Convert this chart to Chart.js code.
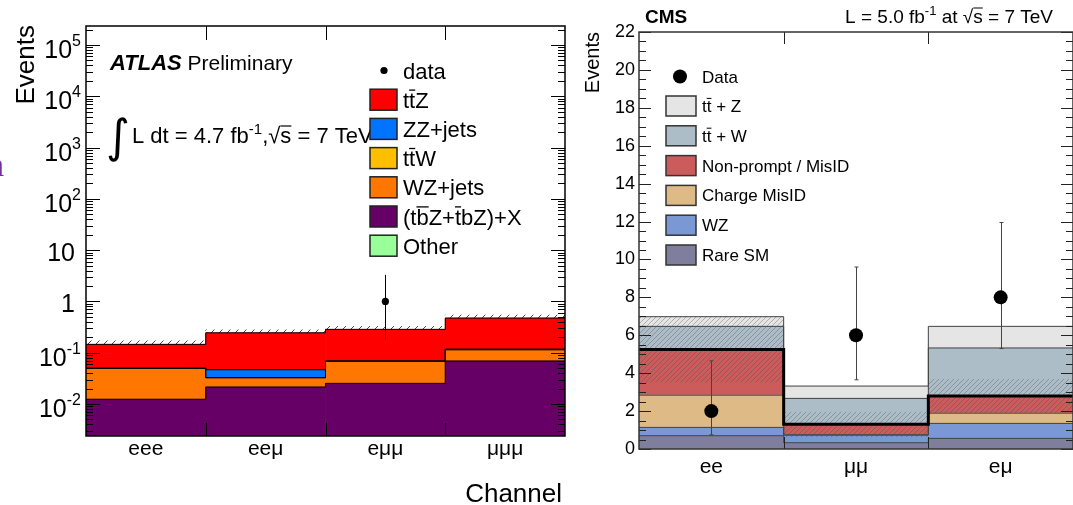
<!DOCTYPE html>
<html><head><meta charset="utf-8">
<script src="https://cdn.jsdelivr.net/npm/chart.js@4.4.1/dist/chart.umd.min.js"></script>
<style>
html,body{margin:0;padding:0;overflow:hidden;background:#fff;width:1073px;height:505px;position:relative;}
#c1{position:absolute;left:0;top:0;}
#c2{position:absolute;left:578px;top:0;}
#nfrag{position:absolute;left:-13px;top:146px;font:34px "Liberation Serif",serif;color:#7030a0;}
</style></head><body>
<div id="nfrag">n</div>
<canvas id="c1" width="578" height="505"></canvas>
<canvas id="c2" width="502" height="505"></canvas>
<script>
// ---------------- ATLAS (left) data ----------------
const atlasChannels = ['eee', 'eeμ', 'eμμ', 'μμμ'];
const atlasTbZX   = [0.0124, 0.0214, 0.0253, 0.0689];
const atlasWZjets = [0.0373, 0.0112, 0.0436, 0.0450];
const atlasTtW    = [0, 0, 0, 0.0030];
const atlasZZjets = [0, 0.0140, 0, 0];
const atlasOther  = [0, 0, 0, 0];
const atlasTtZ    = [0.0960, 0.1980, 0.2170, 0.3570];
const atlasUnc    = [0.025, 0.035, 0.040, 0.070];
const atlasData   = [null, null, 1, null];
const atlasDataLo = [null, null, 0.177, null];
const atlasDataHi = [null, null, 3.3, null];
const atlasYMin = 0.00238, atlasYMax = 2.35e5;
const atlasYTickValues = [0.01, 0.1, 1, 10, 100, 1000, 10000, 100000];
const atlasYTickBase   = ['10', '10', '1', '10', '10', '10', '10', '10'];
const atlasYTickExp    = ['-2', '-1', '', '', '2', '3', '4', '5'];
const atlasLegendLabels = ['t~tZ', 'ZZ+jets', 't~tW', 'WZ+jets', '(t~bZ+~tbZ)+X', 'Other'];

// ---------------- CMS (right) data ----------------
const cmsChannels    = ['ee', 'μμ', 'eμ'];
const cmsRareSM      = [0.70, 0.33, 0.56];
const cmsWZ          = [0.44, 0.41, 0.79];
const cmsChargeMisID = [1.70, 0.00, 0.54];
const cmsNonPrompt   = [2.41, 0.56, 0.91];
const cmsTtW         = [1.22, 1.37, 2.53];
const cmsTtZ         = [0.51, 0.65, 1.14];
const cmsBkgUnc      = [1.73, 0.65, 0.88];
const cmsData        = [2, 6, 8];
const cmsDataLo      = [0.75, 3.65, 5.30];
const cmsDataHi      = [4.65, 9.60, 11.95];
const cmsYMin = 0, cmsYMax = 22, cmsYStep = 2;
const cmsLegendLabels = ['t~t + Z', 't~t + W', 'Non-prompt / MisID', 'Charge MisID', 'WZ', 'Rare SM'];

const F = '"Liberation Sans", Arial, Helvetica, sans-serif';

const pctx = document.createElement('canvas').getContext('2d');
function mkPattern(step, color, lw) {
  const c = document.createElement('canvas'); c.width = step; c.height = step;
  const g = c.getContext('2d');
  g.strokeStyle = color; g.lineWidth = lw;
  g.beginPath();
  g.moveTo(0, step); g.lineTo(step, 0);
  g.moveTo(-1, 1); g.lineTo(1, -1);
  g.moveTo(step - 1, step + 1); g.lineTo(step + 1, step - 1);
  g.stroke();
  return pctx.createPattern(c, 'repeat');
}

function stackLayers(comps, floor) {
  const n = comps[0].length; const cum = new Array(n).fill(0);
  return comps.map(c => {
    const ranges = c.map((v, i) => {
      if (!v) return null;
      const lo = cum[i]; cum[i] += v;
      return [lo > 0 ? lo : floor, cum[i]];
    });
    return { ranges, tops: cum.slice(), empty: c.every(v => !v) };
  });
}
function stepPoints(tops) {
  const pts = tops.map((v, i) => ({ x: i, y: v }));
  pts.push({ x: tops.length, y: tops[tops.length - 1] });
  return pts;
}

// text helpers
function drawRuns(ctx, runs, x, y, align) {
  let total = 0;
  runs.forEach(r => { ctx.font = r.font; r.w = ctx.measureText(r.t).width; total += r.w; });
  let cx = align === 'right' ? x - total : x;
  ctx.textAlign = 'left'; ctx.textBaseline = 'alphabetic';
  runs.forEach(r => {
    ctx.font = r.font;
    ctx.fillText(r.t, cx, y + (r.dy || 0));
    if (r.over) {
      ctx.save(); ctx.lineWidth = r.olw || 1.2; ctx.strokeStyle = ctx.fillStyle;
      ctx.beginPath(); ctx.moveTo(cx, y - r.over); ctx.lineTo(cx + r.w, y - r.over); ctx.stroke();
      ctx.restore();
    }
    cx += r.w;
  });
}
function markedRuns(s, font, size) {
  const runs = []; let i = 0;
  while (i < s.length) {
    if (s[i] === '~') { runs.push({ t: s[i + 1], font, over: size * 0.80, olw: Math.max(1, size / 17) }); i += 2; }
    else { let j = i; while (j < s.length && s[j] !== '~') j++; runs.push({ t: s.slice(i, j), font }); i = j; }
  }
  return runs;
}

// error bar plugin (draws before the data points)
const errorBars = {
  id: 'errorBars',
  beforeDatasetDraw(chart, args) {
    const ds = chart.data.datasets[args.index];
    if (!ds.errLo) return;
    const ctx = chart.ctx, y = chart.scales.y;
    ctx.save(); ctx.strokeStyle = ds.errColor; ctx.lineWidth = 1;
    args.meta.data.forEach((pt, j) => {
      if (ds.data[j] == null) return;
      const x = Math.round(pt.x) + 0.5;
      const y1 = y.getPixelForValue(ds.errLo[j]), y2 = y.getPixelForValue(ds.errHi[j]);
      ctx.beginPath(); ctx.moveTo(x, y1); ctx.lineTo(x, y2);
      if (ds.errCap) { ctx.moveTo(x - ds.errCap, y1); ctx.lineTo(x + ds.errCap, y1); ctx.moveTo(x - ds.errCap, y2); ctx.lineTo(x + ds.errCap, y2); }
      ctx.stroke();
    });
    ctx.restore();
  }
};

function barDs(data, color, order) {
  return { type: 'bar', data, backgroundColor: color, borderWidth: 0, order, xAxisID: 'x', yAxisID: 'y', grouped: false, categoryPercentage: 1, barPercentage: 1 };
}
function stepDs(tops, color, width, order) {
  return { type: 'line', data: stepPoints(tops), xAxisID: 'xs', yAxisID: 'y', stepped: true, borderColor: color, borderWidth: width, pointRadius: 0, fill: false, order };
}

// ================= ATLAS chart =================
const atlasColors = ['#660066', '#ff7700', '#ffbf00', '#0073ff', '#99ff99', '#ff0000'];
const atlasLayers = stackLayers([atlasTbZX, atlasWZjets, atlasTtW, atlasZZjets, atlasOther, atlasTtZ], atlasYMin);
const atlasTotal = atlasLayers[atlasLayers.length - 1].tops;
const atlasDatasets = [];
atlasDatasets.push({ type: 'line', data: atlasData, xAxisID: 'x', yAxisID: 'y', showLine: false, pointRadius: 3.6, pointBackgroundColor: '#000', pointBorderWidth: 0, order: 1, errLo: atlasDataLo, errHi: atlasDataHi, errColor: '#000', errCap: 0 });
atlasLayers.forEach(L => { if (!L.empty) atlasDatasets.push(stepDs(L.tops, '#000', 1, 3)); });
atlasDatasets.push(barDs(atlasTotal.map((t, i) => [t, t + atlasUnc[i]]), mkPattern(8, '#444', 1), 5));
atlasLayers.forEach((L, k) => atlasDatasets.push(barDs(L.ranges, atlasColors[k], 10)));

const atlasDeco = {
  id: 'atlasDeco',
  afterDatasetsDraw(chart) {
    const { ctx, chartArea: a, scales } = chart; const y = scales.y, xs = scales.xs;
    ctx.save(); ctx.strokeStyle = '#000'; ctx.lineWidth = 1;
    ctx.beginPath();
    for (let e = -3; e <= 5; e++) for (let m = 1; m <= 9; m++) {
      const v = m * Math.pow(10, e); if (v < atlasYMin || v > atlasYMax) continue;
      const p = Math.round(y.getPixelForValue(v)) + 0.5; const L = m === 1 ? 14 : 7;
      ctx.moveTo(a.left, p); ctx.lineTo(a.left + L, p); ctx.moveTo(a.right, p); ctx.lineTo(a.right - L, p);
    }
    for (let k = 1; k < atlasChannels.length; k++) {
      const p = Math.round(xs.getPixelForValue(k)) + 0.5;
      ctx.moveTo(p, a.bottom); ctx.lineTo(p, a.bottom - 13); ctx.moveTo(p, a.top); ctx.lineTo(p, a.top + 14);
    }
    ctx.stroke();
    ctx.lineWidth = 1.5; ctx.strokeRect(a.left, a.top, a.right - a.left, a.bottom - a.top);
    ctx.restore();
  },
  afterDraw(chart) {
    const { ctx, scales } = chart; const y = scales.y;
    ctx.save(); ctx.fillStyle = '#000';
    atlasYTickValues.forEach((v, i) => {
      const p = y.getPixelForValue(v);
      const base = atlasYTickBase[i], ex = atlasYTickExp[i];
      ctx.textBaseline = 'alphabetic';
      if (ex) {
        ctx.font = '16px ' + F; const ew = ctx.measureText(ex).width;
        ctx.textAlign = 'right'; ctx.fillText(ex, 81, p + 1);
        ctx.font = '25px ' + F; ctx.fillText(base, 81 - ew, p + 13);
      } else {
        ctx.font = '25px ' + F; ctx.textAlign = 'right'; ctx.fillText(base, 75, p + 11);
      }
    });
    ctx.save(); ctx.translate(27, 25); ctx.rotate(-Math.PI / 2);
    ctx.font = '26px ' + F; ctx.textAlign = 'right'; ctx.textBaseline = 'middle'; ctx.fillText('Events', 0, 0);
    ctx.restore();
    ctx.font = '26px ' + F; ctx.textAlign = 'right'; ctx.textBaseline = 'alphabetic'; ctx.fillText('Channel', 562, 502);
    drawRuns(ctx, [{ t: 'ATLAS', font: 'italic bold 22px ' + F }, { t: ' Preliminary', font: '21px ' + F }], 110, 70);
    ctx.font = '46px "DejaVu Sans", sans-serif'; ctx.textAlign = 'left'; ctx.fillText('∫', 106, 152);
    drawRuns(ctx, [
      { t: 'L dt = 4.7 fb', font: '22px ' + F },
      { t: '-1', font: '15px ' + F, dy: -9 },
      { t: ',√', font: '22px ' + F },
      { t: 's', font: '22px ' + F, over: 17, olw: 1.2 },
      { t: ' = 7 TeV', font: '22px ' + F }
    ], 132, 143);
    ctx.beginPath(); ctx.arc(384, 70.5, 3.6, 0, Math.PI * 2); ctx.fill();
    ctx.font = '22px ' + F; ctx.textAlign = 'left'; ctx.textBaseline = 'alphabetic'; ctx.fillText('data', 403, 78.5);
    const legColors = [atlasColors[5], atlasColors[3], atlasColors[2], atlasColors[1], atlasColors[0], atlasColors[4]];
    legColors.forEach((c, i) => {
      const cy = 99.7 + i * 29.2;
      ctx.fillStyle = c; ctx.fillRect(370, cy - 10.5, 27, 21);
      ctx.strokeStyle = '#222'; ctx.lineWidth = 1.5; ctx.strokeRect(370, cy - 10.5, 27, 21);
      ctx.fillStyle = '#000';
      drawRuns(ctx, markedRuns(atlasLegendLabels[i], '22px ' + F, 22), 403, cy + 8);
    });
    ctx.restore();
  }
};

new Chart(document.getElementById('c1'), {
  type: 'bar',
  data: { labels: atlasChannels, datasets: atlasDatasets },
  options: {
    responsive: false, animation: false, devicePixelRatio: 1,
    layout: { padding: { top: 26, right: 13, left: 0, bottom: 0 } },
    plugins: { legend: { display: false }, tooltip: { enabled: false } },
    scales: {
      x: { type: 'category', offset: true,
        ticks: { font: { size: 21, family: F }, color: '#000', padding: 1 },
        grid: { display: false, drawTicks: false, offset: true }, border: { display: false },
        afterFit: s => { s.height = 69; } },
      xs: { type: 'linear', min: 0, max: atlasChannels.length, offset: false, display: false, grid: { offset: false } },
      y: { type: 'logarithmic', min: atlasYMin, max: atlasYMax,
        ticks: { display: false }, grid: { display: false, drawTicks: false }, border: { display: false },
        afterFit: s => { s.width = 86; } }
    }
  },
  plugins: [errorBars, atlasDeco]
});

// ================= CMS chart =================
const cmsColors = ['#7f7f9d', '#7a99d4', '#deba86', '#cc5c5c', '#adbdc7', '#e5e5e5'];
const cmsLayers = stackLayers([cmsRareSM, cmsWZ, cmsChargeMisID, cmsNonPrompt, cmsTtW, cmsTtZ], 0);
const cmsBkg = cmsLayers[3].tops;
const cmsDatasets = [];
cmsDatasets.push({ type: 'line', data: cmsData, xAxisID: 'x', yAxisID: 'y', showLine: false, pointRadius: 7, pointBackgroundColor: '#000', pointBorderWidth: 0, order: 1, errLo: cmsDataLo, errHi: cmsDataHi, errColor: '#444', errCap: 2 });
cmsDatasets.push(stepDs(cmsBkg, '#000', 3, 2));
cmsLayers.forEach((L, k) => { if (!L.empty && k !== 3) cmsDatasets.push(stepDs(L.tops, '#444', 1, 3)); });
cmsDatasets.push(barDs(cmsBkg.map((b, i) => [b - cmsBkgUnc[i], b + cmsBkgUnc[i]]), mkPattern(5, 'rgba(70,70,70,0.35)', 1), 5));
cmsLayers.forEach((L, k) => cmsDatasets.push(barDs(L.ranges, cmsColors[k], 10)));

const OX = 578;
const cmsDeco = {
  id: 'cmsDeco',
  afterDatasetsDraw(chart) {
    const { ctx, chartArea: a, scales } = chart; const y = scales.y, xs = scales.xs;
    ctx.save(); ctx.strokeStyle = '#222'; ctx.lineWidth = 1;
    ctx.beginPath();
    for (let v = cmsYMin; v <= cmsYMax + 1e-9; v += 0.5) {
      const p = Math.round(y.getPixelForValue(v)) + 0.5; const L = (Math.abs(v / cmsYStep - Math.round(v / cmsYStep)) < 1e-6) ? 12 : 7;
      ctx.moveTo(a.left, p); ctx.lineTo(a.left + L, p); ctx.moveTo(a.right, p); ctx.lineTo(a.right - L, p);
    }
    for (let k = 1; k < cmsChannels.length; k++) {
      const p = Math.round(xs.getPixelForValue(k)) + 0.5;
      ctx.moveTo(p, a.bottom); ctx.lineTo(p, a.bottom - 12); ctx.moveTo(p, a.top); ctx.lineTo(p, a.top + 12);
    }
    ctx.stroke();
    ctx.strokeStyle = '#333'; ctx.lineWidth = 1.5; ctx.strokeRect(a.left, a.top, a.right - a.left, a.bottom - a.top);
    ctx.restore();
  },
  afterDraw(chart) {
    const { ctx } = chart;
    ctx.save(); ctx.fillStyle = '#000';
    ctx.font = 'bold 19px ' + F; ctx.textAlign = 'left'; ctx.textBaseline = 'alphabetic'; ctx.fillText('CMS', 645 - OX, 23);
    drawRuns(ctx, [
      { t: 'L = 5.0 fb', font: '19px ' + F },
      { t: '-1', font: '13px ' + F, dy: -8 },
      { t: ' at √', font: '19px ' + F },
      { t: 's', font: '19px ' + F, over: 15, olw: 1 },
      { t: ' = 7 TeV', font: '19px ' + F }
    ], 1053 - OX, 23, 'right');
    ctx.save(); ctx.translate(593 - OX, 32); ctx.rotate(-Math.PI / 2);
    ctx.font = '20px ' + F; ctx.textAlign = 'right'; ctx.textBaseline = 'middle'; ctx.fillText('Events', 0, 0);
    ctx.restore();
    ctx.beginPath(); ctx.arc(680 - OX, 76.5, 7, 0, Math.PI * 2); ctx.fill();
    ctx.font = '17px ' + F; ctx.fillText('Data', 702 - OX, 82.5);
    const legColors = [cmsColors[5], cmsColors[4], cmsColors[3], cmsColors[2], cmsColors[1], cmsColors[0]];
    legColors.forEach((c, i) => {
      const cy = 106 + i * 29.8;
      ctx.fillStyle = c; ctx.fillRect(666 - OX, cy - 10, 30, 20);
      ctx.strokeStyle = '#333'; ctx.lineWidth = 1.5; ctx.strokeRect(666 - OX, cy - 10, 30, 20);
      ctx.fillStyle = '#000';
      drawRuns(ctx, markedRuns(cmsLegendLabels[i], '17px ' + F, 17), 702 - OX, cy + 6);
    });
    ctx.restore();
  }
};

new Chart(document.getElementById('c2'), {
  type: 'bar',
  data: { labels: cmsChannels, datasets: cmsDatasets },
  options: {
    responsive: false, animation: false, devicePixelRatio: 1,
    layout: { padding: { top: 32, right: 5, left: 0, bottom: 0 } },
    plugins: { legend: { display: false }, tooltip: { enabled: false } },
    scales: {
      x: { type: 'category', offset: true,
        ticks: { font: { size: 21, family: F }, color: '#000', padding: 6 },
        grid: { display: false, drawTicks: false, offset: true }, border: { display: false },
        afterFit: s => { s.height = 56; } },
      xs: { type: 'linear', min: 0, max: cmsChannels.length, offset: false, display: false, grid: { offset: false } },
      y: { type: 'linear', min: cmsYMin, max: cmsYMax,
        ticks: { stepSize: cmsYStep, font: { size: 18, family: F }, color: '#000', padding: 4 },
        grid: { display: false, drawTicks: false }, border: { display: false },
        afterFit: s => { s.width = 61; } }
    }
  },
  plugins: [errorBars, cmsDeco]
});
</script>
</body></html>
